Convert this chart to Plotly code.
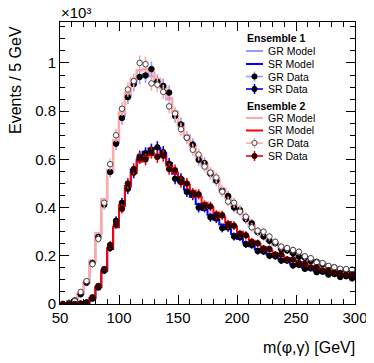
import plotly.graph_objects as go
import numpy as np

# 5 GeV bins from 50 to 300 GeV
edges = list(range(50, 305, 5))
centers = [e + 2.5 for e in edges[:-1]]

# ensemble 1 (blue) -- events per bin
gr_model_1 = [0, 2, 11, 42, 88, 175, 288, 428, 548, 670, 780, 860, 920, 950, 955, 945, 925, 895, 850, 800,
              750, 700, 658, 612, 572, 540, 505, 470, 438, 408, 380, 352, 322, 298, 278, 260, 244, 230, 219, 209,
              199, 189, 180, 172, 164, 157, 150, 144, 139, 135]
sr_model_1 = [0, 0, 0, 2, 5, 24, 70, 138, 228, 318, 408, 490, 558, 600, 632, 645, 645, 625, 585, 540,
              505, 475, 445, 415, 390, 370, 350, 330, 310, 290, 270, 255, 240, 228, 215, 205, 195, 185, 175, 165,
              158, 150, 143, 137, 131, 126, 121, 117, 113, 110]
gr_data_1 = [0, 5, 15, 40, 88, 170, 278, 412, 548, 665, 772, 858, 912, 942, 948, 975, 922, 905, 877, 780,
             745, 690, 662, 598, 585, 540, 512, 470, 448, 400, 390, 352, 335, 298, 280, 262, 252, 226, 222, 210,
             196, 192, 178, 175, 165, 156, 152, 140, 140, 130]
sr_data_1 = [0, 0, 0, 1, 5, 22, 68, 138, 232, 345, 420, 478, 545, 612, 625, 640, 650, 630, 582, 520,
             520, 465, 452, 400, 400, 360, 355, 315, 318, 280, 278, 248, 245, 220, 218, 200, 198, 180, 180, 160,
             162, 146, 148, 132, 134, 122, 124, 112, 115, 106]

# ensemble 2 (red)
gr_model_2 = [0, 3, 12, 45, 92, 180, 294, 435, 556, 680, 795, 875, 935, 970, 975, 960, 935, 900, 855, 795,
              740, 695, 655, 615, 580, 550, 520, 478, 442, 412, 385, 360, 328, 305, 285, 266, 250, 236, 225, 215,
              205, 195, 186, 177, 169, 161, 154, 148, 143, 139]
sr_model_2 = [0, 0, 0, 2, 6, 25, 72, 140, 232, 320, 410, 487, 543, 590, 608, 617, 620, 612, 575, 545,
              520, 495, 470, 445, 420, 400, 380, 360, 340, 320, 300, 280, 262, 248, 235, 222, 210, 200, 190, 180,
              172, 164, 156, 150, 143, 137, 132, 127, 123, 120]
gr_data_2 = [0, 4, 12, 50, 95, 165, 270, 420, 580, 700, 810, 890, 925, 1000, 995, 915, 910, 880, 820, 790,
             725, 690, 640, 620, 570, 545, 525, 466, 425, 420, 383, 362, 318, 304, 300, 280, 258, 238, 232, 224,
             217, 198, 190, 172, 170, 158, 152, 146, 145, 143]
sr_data_2 = [0, 0, 0, 2, 7, 28, 75, 145, 245, 330, 395, 500, 560, 605, 600, 628, 610, 615, 560, 555,
             505, 500, 460, 455, 410, 405, 370, 368, 330, 325, 290, 285, 258, 252, 230, 228, 205, 205, 185, 185,
             170, 168, 152, 152, 140, 140, 130, 128, 120, 122]

LIGHT_BLUE = '#9a9aff'
BLUE = '#0000ff'
PINK = '#ffa8a8'
RED = '#ff0000'
FONT = 'Liberation Sans'

W, H = 374, 363
OFF = 8  # the page puts the figure 8px in from the corner
L, T = 60 - OFF, 22 - OFF
PW, PH = 295, 282
R, B = W - L - PW, H - T - PH


def px(x):  # pixel in the screenshot -> paper
    return (x - OFF - L) / PW


def py(y):
    return (T + PH - (y - OFF)) / PH


fig = go.Figure()


def step(vals, color, width):
    fig.add_trace(go.Scatter(
        x=edges, y=list(vals) + [vals[-1]], mode='lines', line_shape='hv',
        line=dict(color=color, width=width), showlegend=False, hoverinfo='skip'))


def points(vals, bar, fill, edge):
    err = np.sqrt(np.array(vals, dtype=float))
    fig.add_trace(go.Scatter(
        x=centers, y=vals, mode='markers', showlegend=False,
        marker=dict(color=fill, size=5.5, line=dict(color=edge, width=1)),
        error_y=dict(type='data', array=err, color=bar, thickness=1.6, width=0)))


step(gr_model_1, LIGHT_BLUE, 2)
step(gr_model_2, PINK, 2.5)
step(sr_model_1, BLUE, 2)
step(sr_model_2, RED, 2)
points(gr_data_1, LIGHT_BLUE, 'black', 'black')
points(sr_data_1, BLUE, 'black', 'black')
points(gr_data_2, PINK, 'white', '#444444')
points(sr_data_2, RED, '#300000', '#300000')

# hand-made ROOT style legend
legend_rows = [
    ('title', 'Ensemble 1', None, None, None),
    ('model', 'GR Model', LIGHT_BLUE, None, None),
    ('model', 'SR Model', BLUE, None, None),
    ('data', 'GR Data', LIGHT_BLUE, 'black', 'black'),
    ('data', 'SR Data', BLUE, 'black', 'black'),
    ('title', 'Ensemble 2', None, None, None),
    ('model', 'GR Model', PINK, None, None),
    ('model', 'SR Model', RED, None, None),
    ('data', 'GR Data', PINK, 'white', '#444444'),
    ('data', 'SR Data', RED, '#300000', '#300000'),
]
row_y = [38.5, 51, 64, 76.5, 89, 105.5, 118, 130.5, 143, 156]
for (kind, label, col, fill, edge), yy in zip(legend_rows, row_y):
    if kind == 'title':
        fig.add_annotation(text='<b>%s</b>' % label, xref='paper', yref='paper', x=px(245), y=py(yy),
                           xanchor='left', yanchor='middle', showarrow=False,
                           font=dict(family=FONT, size=10.5, color='black'))
        continue
    fig.add_annotation(text=label, xref='paper', yref='paper', x=px(266), y=py(yy),
                       xanchor='left', yanchor='middle', showarrow=False,
                       font=dict(family=FONT, size=10.5, color='black'))
    fig.add_shape(type='line', xref='paper', yref='paper', x0=px(246), x1=px(263), y0=py(yy), y1=py(yy),
                  line=dict(color=col, width=2 if kind == 'model' else 1.6))
    if kind == 'data':
        fig.add_shape(type='line', xref='paper', yref='paper', x0=px(254.5), x1=px(254.5),
                      y0=py(yy - 5), y1=py(yy + 5), line=dict(color=col, width=1.6))
        fig.add_shape(type='circle', xref='paper', yref='paper', xsizemode='pixel', ysizemode='pixel',
                      xanchor=px(254.5), yanchor=py(yy), x0=-2.6, x1=2.6, y0=-2.6, y1=2.6,
                      fillcolor=fill, line=dict(color=edge, width=1))

axis = dict(showline=True, linecolor='black', linewidth=1, mirror='allticks',
            ticks='inside', tickcolor='black', showgrid=False, zeroline=False,
            tickfont=dict(family=FONT, size=15, color='black'))

fig.update_xaxes(range=[50, 300], tickvals=[50, 100, 150, 200, 250, 300], ticklen=9,
                 minor=dict(ticks='inside', dtick=10, ticklen=5, tickcolor='black'), **axis)
fig.update_yaxes(range=[0, 1170], tickvals=[0, 200, 400, 600, 800, 1000],
                 ticktext=['0', '0.2', '0.4', '0.6', '0.8', '1'], ticklen=9,
                 minor=dict(ticks='inside', dtick=50, ticklen=5, tickcolor='black'), **axis)

fig.add_annotation(text='Events / 5 GeV', xref='paper', yref='paper', x=px(15), y=py(24),
                   xanchor='center', yanchor='top', textangle=-90, showarrow=False,
                   font=dict(family=FONT, size=16, color='black'))
fig.add_annotation(text='m(\u03c6,\u03b3) [GeV]', xref='paper', yref='paper', x=px(357), y=py(337),
                   xanchor='right', yanchor='top', showarrow=False,
                   font=dict(family=FONT, size=16, color='black'))
fig.add_annotation(text='\u00d710\u00b3', xref='paper', yref='paper', x=px(59), y=py(23),
                   xanchor='left', yanchor='bottom', showarrow=False,
                   font=dict(family=FONT, size=15, color='black'))

fig.update_layout(
    width=W, height=H, plot_bgcolor='white', paper_bgcolor='white',
    margin=dict(l=L, r=R, t=T, b=B, autoexpand=False),
    showlegend=False,
)

fig.write_html("out.html")
